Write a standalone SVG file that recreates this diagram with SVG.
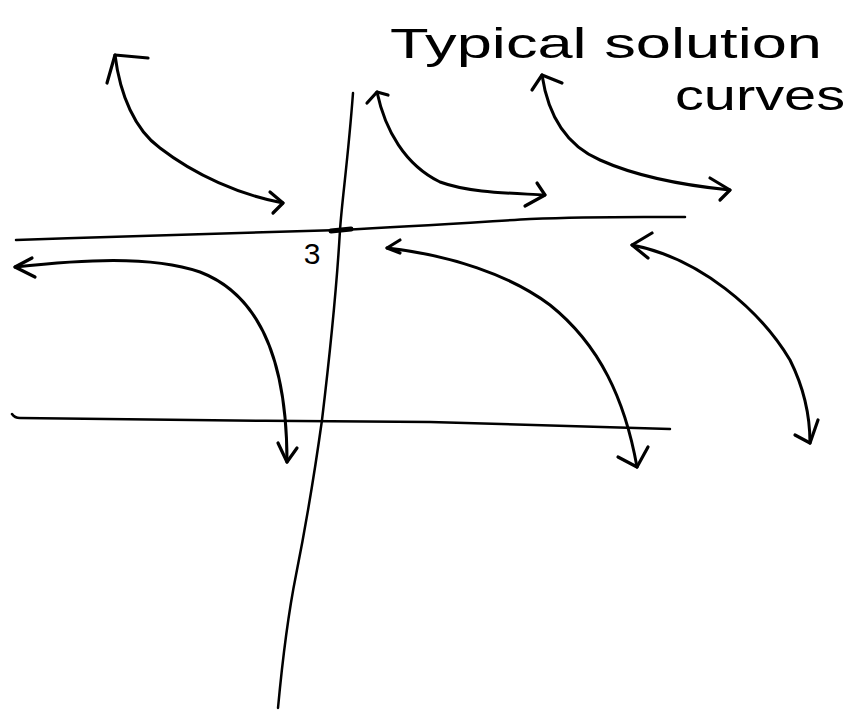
<svg xmlns="http://www.w3.org/2000/svg" width="863" height="711" viewBox="0 0 863 711">
<style>
.ink{fill:none;stroke:#000;stroke-linecap:round;stroke-linejoin:round}
.axis{stroke-width:2.5}
.curve{stroke-width:3}
.head{stroke-width:3.2}
.txt{font-family:"Liberation Sans","DejaVu Sans",sans-serif;fill:#000}
.big{font-size:42px}
.num{font-size:30px}
</style>
<rect width="863" height="711" fill="#fff"/>
<g id="axes">
<path class="ink axis" d="M16,240 C150,235 300,232 340,230 C420,226 480,222 530,219 C600,216 650,217 685,217"/>
<path class="ink axis" d="M12,414 C14,417 16,418 20,418 C120,420 300,421 430,422 C550,425 620,427 670,429"/>
<path class="ink axis" d="M353,93 C348,160 342,200 340,230 C336,300 328,370 322,420 C315,470 305,530 296,575 C287,620 282,665 278,708"/>
<path class="ink" stroke-width="5" d="M331,231 L351,229"/>
<text class="txt num" x="312" y="264" text-anchor="middle">3</text>
</g>
<g id="label">
<text class="txt big" x="390" y="58" textLength="432" lengthAdjust="spacingAndGlyphs">Typical solution</text>
<text class="txt big" x="675" y="110" textLength="170" lengthAdjust="spacingAndGlyphs">curves</text>
</g>
<g id="connectors">
<g id="curve1">
<path class="ink curve" d="M115,55 C120,95 135,130 160,148 C195,175 240,195 283,203"/>
<path class="ink head" d="M107,83 L115,55 L148,58"/>
<path class="ink head" d="M270,192 L283,203 L273,213"/>
</g>
<g id="curve2">
<path class="ink curve" d="M377,92 C385,130 405,165 440,182 C470,193 510,193 545,195"/>
<path class="ink head" d="M367,103 L377,92 L388,95"/>
<path class="ink head" d="M537,183 L545,195 L525,206"/>
</g>
<g id="curve3">
<path class="ink curve" d="M542,75 C548,115 565,145 600,160 C640,178 690,186 730,190"/>
<path class="ink head" d="M532,90 L542,75 L562,83"/>
<path class="ink head" d="M710,178 L730,190 L720,200"/>
</g>
<g id="curve4">
<path class="ink curve" d="M15,267 C80,260 150,255 200,272 C260,295 287,360 287,462"/>
<path class="ink head" d="M32,258 L15,267 L35,277"/>
<path class="ink head" d="M278,443 L287,462 L297,448"/>
</g>
<g id="curve5">
<path class="ink curve" d="M387,248 C450,255 510,275 550,305 C600,345 625,400 637,467"/>
<path class="ink head" d="M400,240 L387,248 L400,253"/>
<path class="ink head" d="M618,457 L637,467 L648,447"/>
</g>
<g id="curve6">
<path class="ink curve" d="M632,245 C700,258 760,310 790,360 C805,390 810,420 810,443"/>
<path class="ink head" d="M652,233 L632,245 L648,258"/>
<path class="ink head" d="M795,435 L810,443 L818,420"/>
</g>
</g>
</svg>
